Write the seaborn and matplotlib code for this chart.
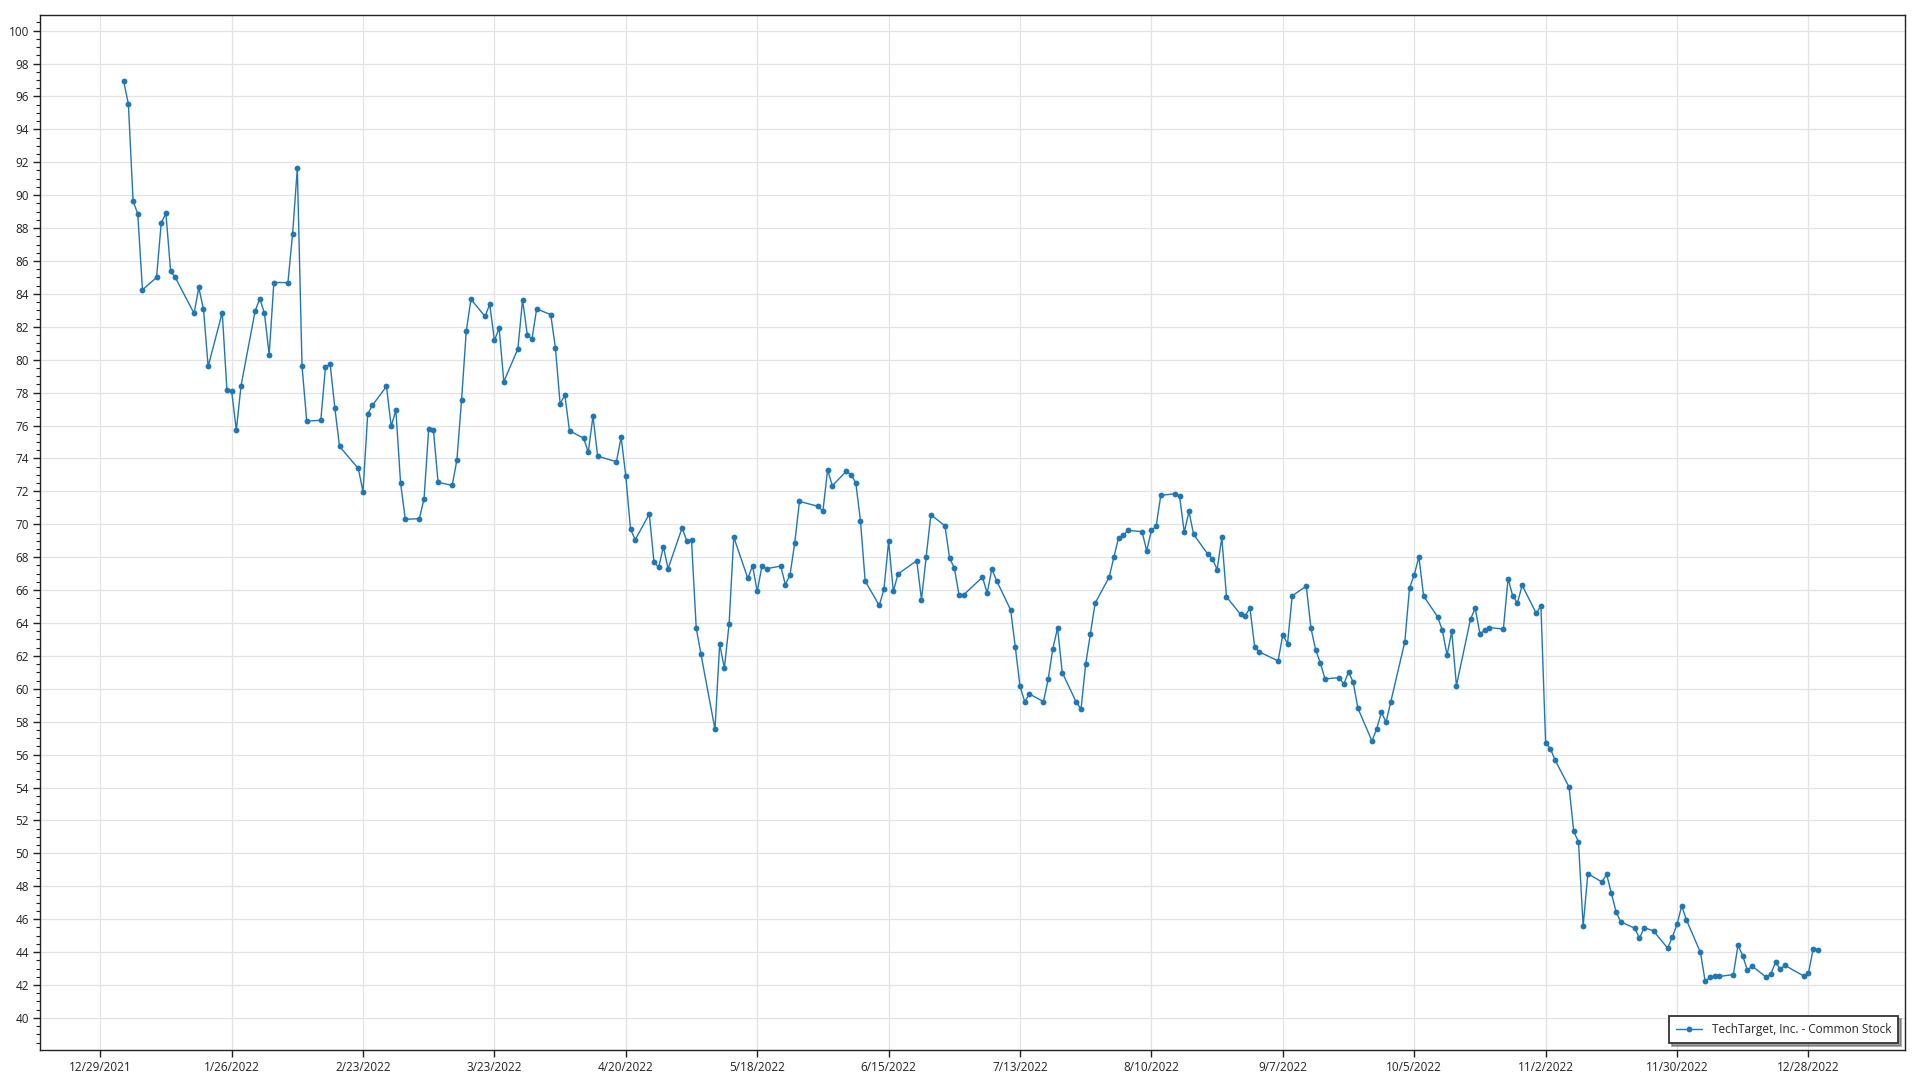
import pandas as pd
import matplotlib
matplotlib.use("Agg")
import matplotlib.pyplot as plt
import matplotlib.dates as mdates
from matplotlib.ticker import MultipleLocator, FixedLocator, FuncFormatter
import seaborn as sns

# ─── Data ─────────────────────────────────────────────────────────────────────

SERIES_NAME = "TechTarget, Inc. - Common Stock"

# NYSE market holidays in 2022 (no trading → no point)
HOLIDAYS = ["2022-01-17", "2022-02-21", "2022-04-15", "2022-05-30",
            "2022-06-20", "2022-07-04", "2022-09-05", "2022-11-24",
            "2022-12-26"]

jan = [96.91, 95.55, 89.66, 88.85, 84.25, 85.00, 88.32, 88.89, 85.38, 85.00,
       82.81, 84.39, 83.07, 79.59, 82.87, 78.15, 78.11, 75.72, 78.41, 82.95]
feb = [83.72, 82.81, 80.30, 84.69, 84.69, 87.67, 91.64, 79.63, 76.27, 76.32,
       79.56, 79.72, 77.05, 74.73, 73.39, 71.98, 76.71, 77.23, 78.38]
mar = [75.96, 76.93, 72.53, 70.30, 70.34, 71.54, 75.82, 75.72, 72.55, 72.36,
       73.90, 77.56, 81.74, 83.68, 82.63, 83.37, 81.17, 81.92, 78.67, 80.66,
       83.64, 81.53, 81.25]
apr = [83.09, 82.74, 80.72, 77.32, 77.85, 75.68, 75.23, 74.38, 76.57, 74.14,
       73.80, 75.30, 72.91, 69.71, 69.06, 70.62, 67.70, 67.38, 68.64, 67.30]
may = [69.79, 68.98, 69.04, 63.70, 62.12, 57.54, 62.72, 61.25, 63.92, 69.22,
       66.71, 67.48, 65.92, 67.46, 67.30, 67.46, 66.33, 66.94, 68.88, 71.39,
       71.09]
jun = [70.80, 73.31, 72.34, 73.23, 73.01, 72.52, 70.21, 66.55, 65.07, 66.04,
       68.96, 65.92, 66.98, 67.79, 65.42, 68.03, 70.58, 69.91, 67.93, 67.35,
       65.71]
jul = [65.71, 66.79, 65.81, 67.29, 66.58, 64.80, 62.53, 60.15, 59.22, 59.69,
       59.22, 60.58, 62.45, 63.70, 60.99, 59.18, 58.77, 61.51, 63.36, 65.20]
aug = [66.79, 68.00, 69.18, 69.32, 69.63, 69.55, 68.39, 69.63, 69.87, 71.76,
       71.85, 71.70, 69.51, 70.78, 69.38, 68.19, 67.90, 67.25, 69.20, 65.59,
       64.52, 64.45, 64.90]
sep = [62.55, 62.24, 61.70, 63.30, 62.73, 65.65, 66.24, 63.68, 62.37, 61.57,
       60.60, 60.68, 60.28, 61.03, 60.40, 58.82, 56.83, 57.56, 58.57, 57.98,
       59.20]
oct_ = [62.86, 66.13, 66.92, 68.02, 65.64, 64.37, 63.55, 62.05, 63.49, 60.20,
        64.24, 64.89, 63.35, 63.55, 63.72, 63.63, 66.70, 65.64, 65.22, 66.29,
        64.59]
nov = [65.04, 56.73, 56.37, 55.68, 54.03, 51.33, 50.70, 45.58, 48.77, 48.26,
       48.73, 47.60, 46.46, 45.84, 45.45, 44.83, 45.49, 45.29, 44.24, 44.91,
       45.68]
dec = [46.81, 45.96, 43.98, 42.22, 42.46, 42.52, 42.52, 42.63, 44.42, 43.78,
       42.89, 43.15, 42.48, 42.67, 43.39, 42.97, 43.19, 42.55, 42.71, 44.16,
       44.10]

close = jan + feb + mar + apr + may + jun + jul + aug + sep + oct_ + nov + dec
dates = pd.bdate_range("2022-01-03", "2022-12-30", freq="C", holidays=HOLIDAYS)

TICK_START = "2021-12-29"   # x ticks every 4 weeks from here
TICK_COUNT = 14

df = pd.DataFrame({"date": dates, "close": close})

# ─── Style ────────────────────────────────────────────────────────────────────

LINE_COLOR = "#1f77b4"
GRID_COLOR = "#e3e3e3"

sns.set_theme(style="whitegrid")
plt.rcParams.update({
    "font.family":      ["Open Sans", "DejaVu Sans"],
    "axes.edgecolor":   "#222222",
    "axes.linewidth":   1.0,
    "grid.color":       GRID_COLOR,
    "grid.linewidth":   0.9,
    "xtick.color":      "#222222",
    "ytick.color":      "#222222",
    "xtick.labelcolor": "#222222",
    "ytick.labelcolor": "#222222",
})

fig = plt.figure(figsize=(19.2, 10.8), dpi=100)
ax = fig.add_axes([40 / 1920, 1 - 1050 / 1080, 1865 / 1920, 1035 / 1080])

sns.lineplot(data=df, x="date", y="close", ax=ax, color=LINE_COLOR,
             linewidth=1.0, marker="o", markersize=4.2, markeredgewidth=0,
             label=SERIES_NAME)

# ─── Axes ─────────────────────────────────────────────────────────────────────

ax.set_ylim(38.05, 100.95)
ax.yaxis.set_major_locator(MultipleLocator(2))
ax.yaxis.set_minor_locator(MultipleLocator(0.5))
ax.yaxis.set_major_formatter(FuncFormatter(lambda v, _: f"{v:.0f}"))

tick_dates = pd.date_range(TICK_START, periods=TICK_COUNT, freq="28D")
ax.set_xlim(pd.Timestamp("2021-12-16 04:00"), pd.Timestamp("2023-01-17 14:00"))
ax.xaxis.set_major_locator(FixedLocator(mdates.date2num(tick_dates)))
ax.xaxis.set_major_formatter(FuncFormatter(
    lambda v, _: (lambda d: f"{d.month}/{d.day}/{d.year}")(mdates.num2date(v))))

ax.tick_params(axis="both", which="major", labelsize=8.5, length=5, width=1,
               direction="out", bottom=True, left=True)
ax.tick_params(axis="y", which="minor", length=3, width=0.8, left=True)
ax.tick_params(axis="x", pad=3)
ax.tick_params(axis="y", pad=3)

ax.grid(True, which="major", color=GRID_COLOR, linewidth=0.9)
ax.grid(False, which="minor")
ax.set_axisbelow(True)
ax.set_xlabel("")
ax.set_ylabel("")
for s in ax.spines.values():
    s.set_visible(True)
    s.set_color("#222222")

leg = ax.legend(loc="lower right", fontsize=8.5, frameon=True, fancybox=False,
                shadow=True, borderpad=0.6, handlelength=2.2,
                bbox_to_anchor=(0.9995, 0.001))
leg.get_frame().set_edgecolor("#333333")
leg.get_frame().set_linewidth(1.3)
leg.get_frame().set_alpha(1.0)

fig.savefig("out.png", dpi=100, facecolor="white")
